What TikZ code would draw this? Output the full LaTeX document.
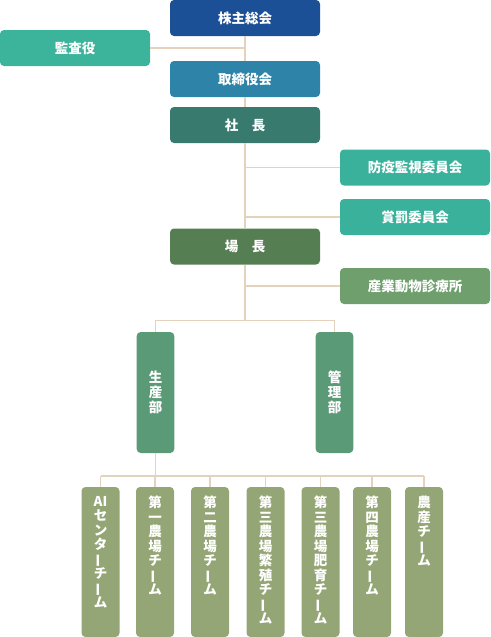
\documentclass[tikz,border=0pt]{standalone}
\usepackage{fontspec}
\usepackage{graphicx}
\newfontfamily\cjk{Noto Sans CJK JP}
\definecolor{cSoukai}{HTML}{1B4F96}
\definecolor{cKansa}{HTML}{3CB39B}
\definecolor{cTori}{HTML}{2D84A8}
\definecolor{cShachou}{HTML}{387A6E}
\definecolor{cIinkai}{HTML}{3AB19B}
\definecolor{cJou}{HTML}{557F53}
\definecolor{cShin}{HTML}{6E9F6D}
\definecolor{cBu}{HTML}{5B9A77}
\definecolor{cTeam}{HTML}{95A676}
\definecolor{cLine}{HTML}{E3D2BC}
\newcommand{\vbarchar}{\raisebox{0pt}[0.88em][0.12em]{\rotatebox[origin=c]{90}{ー}}}
\tikzset{
  hbox/.style={draw=none, fill=#1, rounded corners=4pt, minimum width=150pt, minimum height=36pt,
    inner sep=0pt, text=white, font={\cjk\bfseries\fontsize{13.5}{15}\selectfont}},
  bubox/.style={draw=none, fill=cBu, rounded corners=4pt, minimum width=37.6pt, minimum height=121pt,
    inner sep=0pt, text=white, align=center, font={\cjk\bfseries\fontsize{13.5}{14.7}\selectfont}},
  teambox/.style={draw=none, fill=cTeam, rounded corners=4pt, minimum width=38pt, minimum height=150pt,
    inner sep=0pt},
  teamtext/.style={anchor=north, inner sep=0pt, text=white, align=center,
    font={\cjk\bfseries\fontsize{13.5}{14.5}\selectfont}},
  conn/.style={draw=cLine, line width=1.5pt}
}
\begin{document}
\begin{tikzpicture}[x=1pt,y=-1pt]
\useasboundingbox (0,0) rectangle (490,637);
% top nodes
\node[hbox=cSoukai] (soukai) at (245,18) {株主総会};
\node[hbox=cKansa] (kansa) at (75,48) {監査役};
\node[hbox=cTori] (tori) at (245,79) {取締役会};
\node[hbox=cShachou] (shachou) at (245,125) {社　長};
\node[hbox=cIinkai] (boueki) at (415,167.5) {防疫監視委員会};
\node[hbox=cIinkai] (shoubatsu) at (415,217) {賞罰委員会};
\node[hbox=cJou] (jouchou) at (245,246.5) {場　長};
\node[hbox=cShin] (shinryou) at (415,286) {産業動物診療所};
% departments
\node[bubox] (seisan) at (155.5,392.5) {生\\産\\部};
\node[bubox] (kanri) at (334.5,392.5) {管\\理\\部};
% teams
\node[teambox] (t1) at (100.5,562) {};
\node[teambox] (t2) at (155,562) {};
\node[teambox] (t3) at (210,562) {};
\node[teambox] (t4) at (265.5,562) {};
\node[teambox] (t5) at (320.5,562) {};
\node[teambox] (t6) at (372,562) {};
\node[teambox] (t7) at (424,562) {};
\node[teamtext] (t1l) at ([yshift=-9pt]t1.north) {AI\\セ\\ン\\タ\\\vbarchar\\チ\\\vbarchar\\ム};
\node[teamtext] (t2l) at ([yshift=-9pt]t2.north) {第\\一\\農\\場\\チ\\\vbarchar\\ム};
\node[teamtext] (t3l) at ([yshift=-9pt]t3.north) {第\\二\\農\\場\\チ\\\vbarchar\\ム};
\node[teamtext] (t4l) at ([yshift=-9pt]t4.north) {第\\三\\農\\場\\繁\\殖\\チ\\\vbarchar\\ム};
\node[teamtext] (t5l) at ([yshift=-9pt]t5.north) {第\\三\\農\\場\\肥\\育\\チ\\\vbarchar\\ム};
\node[teamtext] (t6l) at ([yshift=-9pt]t6.north) {第\\四\\農\\場\\チ\\\vbarchar\\ム};
\node[teamtext] (t7l) at ([yshift=-9pt]t7.north) {農\\産\\チ\\\vbarchar\\ム};
% connectors
\coordinate (bar) at (245,320.5);
\coordinate (bar2) at (155.5,476);
\draw[conn] (soukai.south) -- (tori.north);
\draw[conn] (tori.south) -- (shachou.north);
\draw[conn] (shachou.south) -- (jouchou.north);
\draw[conn] (jouchou.south) -- (bar);
\draw[conn] (kansa.east) -- (kansa.east -| soukai.south);
\draw[conn] (boueki.west) -- (boueki.west -| shachou.south);
\draw[conn] (shoubatsu.west) -- (shoubatsu.west -| shachou.south);
\draw[conn] (shinryou.west) -- (shinryou.west -| jouchou.south);
\draw[conn] (seisan.north) -- (seisan.north |- bar) -- (kanri.north |- bar) -- (kanri.north);
\draw[conn] (seisan.south) -- (bar2);
\draw[conn] (t1.north |- bar2) -- (t7.north |- bar2);
\foreach \t in {t1,t2,t3,t4,t5,t6,t7}{
  \draw[conn] (\t.north) -- (\t.north |- bar2);
}
\end{tikzpicture}
\end{document}
